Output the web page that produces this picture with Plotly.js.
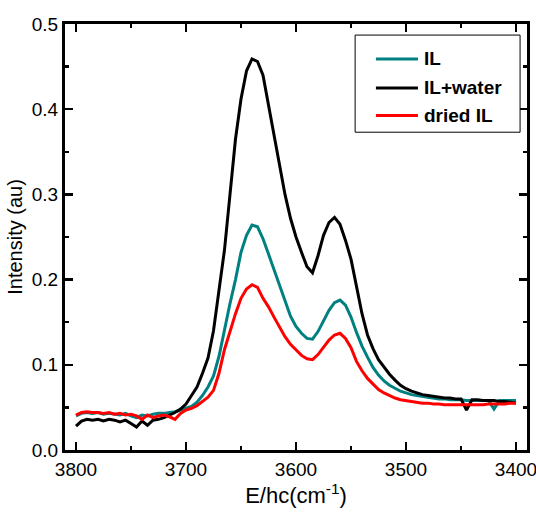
<!DOCTYPE html>
<html>
<head>
<meta charset="utf-8">
<script src="https://cdn.plot.ly/plotly-3.0.1.min.js"></script>
<style>html,body{margin:0;padding:0;background:#fff;}#chart{width:536px;height:512px;}</style>
</head>
<body>
<div id="chart"></div>
<script>
const wavenumber = [3800,3795,3790,3785,3780,3775,3770,3765,3760,3755,3750,3745,3740,3735,3730,3725,3720,3715,3710,3705,
3700,3695,3690,3685,3680,3675,3670,3665,3660,3655,3650,3645,3640,3635,3630,3625,3620,3615,3610,3605,
3600,3595,3590,3585,3580,3575,3570,3565,3560,3555,3550,3545,3540,3535,3530,3525,3520,3515,3510,3505,
3500,3495,3490,3485,3480,3475,3470,3465,3460,3455,3450,3445,3440,3435,3430,3425,3420,3415,3410,3405,3400];

const ilIntensity = [0.040,0.043,0.044,0.043,0.044,0.042,0.043,0.042,0.041,0.043,0.040,0.038,0.041,0.040,0.042,0.043,0.043,0.044,0.045,0.047,
0.049,0.051,0.056,0.064,0.074,0.087,0.110,0.143,0.172,0.200,0.232,0.252,0.264,0.262,0.248,0.230,0.212,0.193,0.174,0.157,
0.145,0.137,0.131,0.130,0.139,0.151,0.164,0.173,0.176,0.170,0.156,0.138,0.122,0.109,0.097,0.088,0.081,0.076,0.072,0.069,
0.067,0.065,0.064,0.063,0.062,0.061,0.060,0.060,0.059,0.059,0.059,0.058,0.058,0.058,0.058,0.058,0.048,0.058,0.058,0.058,0.058];

const ilWaterIntensity = [0.028,0.034,0.036,0.035,0.036,0.034,0.036,0.035,0.033,0.035,0.031,0.027,0.034,0.029,0.035,0.036,0.038,0.041,0.044,0.048,
0.054,0.064,0.074,0.090,0.108,0.140,0.185,0.235,0.300,0.365,0.412,0.445,0.459,0.456,0.440,0.405,0.370,0.333,0.300,0.272,
0.250,0.232,0.215,0.208,0.228,0.252,0.267,0.273,0.265,0.246,0.224,0.192,0.160,0.135,0.119,0.106,0.097,0.089,0.082,0.076,
0.072,0.069,0.067,0.065,0.064,0.063,0.062,0.061,0.061,0.060,0.060,0.047,0.059,0.059,0.058,0.058,0.058,0.057,0.057,0.056,0.055];

const driedIntensity = [0.041,0.044,0.045,0.044,0.044,0.043,0.044,0.042,0.043,0.041,0.042,0.040,0.036,0.041,0.038,0.040,0.041,0.039,0.036,0.043,
0.047,0.049,0.052,0.057,0.062,0.070,0.090,0.118,0.140,0.160,0.178,0.189,0.194,0.191,0.178,0.168,0.156,0.144,0.133,0.124,
0.117,0.111,0.107,0.106,0.112,0.121,0.129,0.135,0.137,0.131,0.120,0.104,0.093,0.084,0.077,0.071,0.067,0.064,0.061,0.059,
0.058,0.057,0.056,0.055,0.055,0.054,0.054,0.053,0.053,0.053,0.053,0.053,0.053,0.053,0.053,0.054,0.054,0.054,0.054,0.055,0.055];

const seriesNames = ['IL', 'IL+water', 'dried IL'];
const seriesColors = ['#008080', '#000000', '#ff0000'];
const seriesValues = [ilIntensity, ilWaterIntensity, driedIntensity];

const traces = seriesNames.map((name, i) => ({
  type: 'scatter', mode: 'lines', name: name,
  x: wavenumber, y: seriesValues[i],
  line: {color: seriesColors[i], width: 3},
  showlegend: false
}));

const fam = 'Liberation Sans, Arial, sans-serif';

// manual legend (paper coordinates)
const shapes = [{
  type: 'rect', xref: 'paper', yref: 'paper',
  x0: 0.628, x1: 0.985, y0: 0.746, y1: 0.974,
  line: {color: '#000', width: 1}, fillcolor: '#fff', layer: 'above'
}];
const annotations = [];
const rowY = [0.918, 0.850, 0.785];
seriesNames.forEach((name, i) => {
  shapes.push({
    type: 'line', xref: 'paper', yref: 'paper',
    x0: 0.673, x1: 0.764, y0: rowY[i], y1: rowY[i],
    line: {color: seriesColors[i], width: 3}, layer: 'above'
  });
  annotations.push({
    xref: 'paper', yref: 'paper', x: 0.772, y: rowY[i],
    xanchor: 'left', yanchor: 'middle', showarrow: false,
    text: '<b>' + name + '</b>',
    font: {family: fam, size: 19, color: '#000'}
  });
});

const axisCommon = {
  showline: true, linecolor: '#000', linewidth: 3, mirror: 'allticks',
  ticks: 'inside', ticklen: 8, tickwidth: 2.5, tickcolor: '#000',
  showgrid: false, zeroline: false,
  tickfont: {family: fam, size: 19, color: '#000'}
};

const layout = {
  width: 536, height: 512,
  margin: {l: 65, r: 9, t: 24, b: 62},
  paper_bgcolor: '#fff', plot_bgcolor: '#fff',
  font: {family: fam, color: '#000'},
  showlegend: false,
  shapes: shapes,
  annotations: annotations,
  xaxis: Object.assign({}, axisCommon, {
    range: [3810, 3390], tick0: 3400, dtick: 100,
    ticklabeloverflow: 'allow',
    minor: {ticks: 'inside', ticklen: 4, tickwidth: 2.5, dtick: 50, tickcolor: '#000'},
    title: {text: 'E/hc(cm<sup>-1</sup>)', font: {family: fam, size: 22, color: '#000'}, standoff: 6}
  }),
  yaxis: Object.assign({}, axisCommon, {
    range: [0, 0.5], tick0: 0, dtick: 0.1, tickformat: '.1f',
    minor: {ticks: 'inside', ticklen: 4, tickwidth: 2.5, dtick: 0.05, tickcolor: '#000'},
    title: {text: 'Intensity (au)', font: {family: fam, size: 20, color: '#000'}, standoff: 4}
  })
};

Plotly.newPlot('chart', traces, layout, {displayModeBar: false, staticPlot: true});
</script>
</body>
</html>
